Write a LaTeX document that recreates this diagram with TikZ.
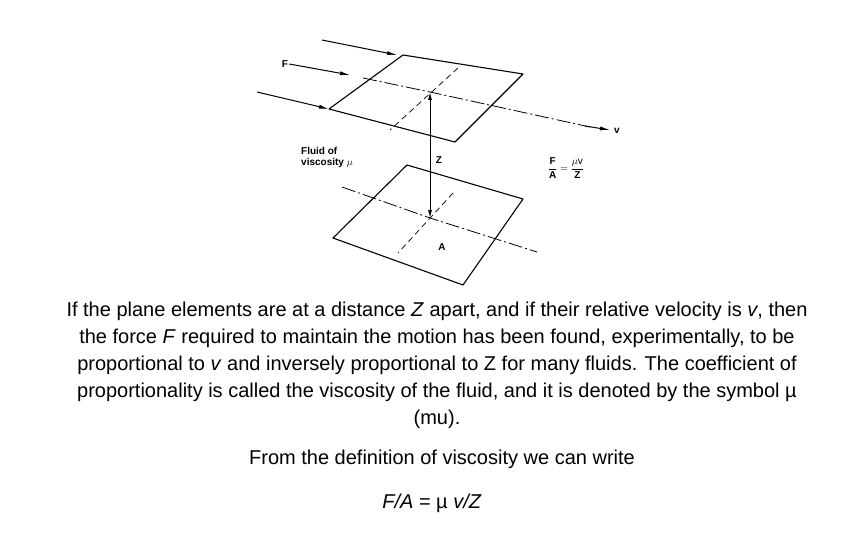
\documentclass[tikz,border=0pt]{standalone}
\usepackage{fontspec}
\setmainfont{Liberation Sans}
\usetikzlibrary{arrows.meta}
\begin{document}
\begin{tikzpicture}[x=1pt,y=-1pt,
  plate/.style={draw,line width=1.1pt,line join=round},
  dashdot/.style={line width=0.8pt,dash pattern=on 14pt off 3pt on 2pt off 3pt},
  dsh/.style={line width=0.7pt,dash pattern=on 6pt off 4pt},
  farrow/.style={line width=1pt,-{Latex[length=10pt,width=4pt]}},
  lbl/.style={font=\fontsize{10}{11}\selectfont\bfseries,inner sep=1pt},
  body/.style={font=\fontsize{20}{27}\selectfont,align=center,inner sep=0pt}]
\useasboundingbox (0,0) rectangle (864,540);
% top plate
\coordinate (t1) at (403,55); \coordinate (t2) at (523,74);
\coordinate (t3) at (455,142); \coordinate (t4) at (329,109);
\draw[plate] (t1)--(t2)--(t3)--(t4)--cycle;
\coordinate (tc) at (430,92);
\coordinate (ds1) at (363,78); \coordinate (vend) at (610,130);
\draw[dashdot] (ds1) -- (tc) -- (590,127);
\draw[farrow] (585,126) -- (vend);
\node[lbl,anchor=west] (v) at (613,131) {v};
\draw[dsh] (458,68) -- (390,130);
% incoming arrows
\coordinate (a1) at (322,40); \coordinate (a1e) at (397,55);
\draw[farrow] (a1) -- (a1e);
\node[lbl] (F) at (285,64) {F};
\coordinate (a2e) at (350,75);
\draw[farrow] (F.east) -- (a2e);
\coordinate (a3) at (257,92);
\draw[farrow] (a3) -- (t4);
% bottom plate
\coordinate (b1) at (407,165); \coordinate (b2) at (523,199);
\coordinate (b3) at (463,285); \coordinate (b4) at (333,238);
\draw[plate] (b1)--(b2)--(b3)--(b4)--cycle;
\coordinate (bc) at (430,218);
\draw[dashdot] (342,187) -- (bc) -- (537,252);
\draw[dsh] (453,193) -- (398,253);
\node[lbl] (A) at (442,247) {A};
% Z arrow
\draw[line width=0.9pt,{Latex[length=8pt,width=4pt]}-{Latex[length=8pt,width=4pt]}] (tc) -- (bc);
\node[lbl] (Z) at (439,160) {Z};
\node[lbl,align=left,anchor=west] (fl) at (300,157) {Fluid of\\viscosity $\mu$};
\node[lbl] (eq) at (566,168) {$\displaystyle\frac{\mathbf{F}}{\mathbf{A}}=\frac{\mu\mathrm{v}}{\mathbf{Z}}$};
% text
\node[body] (t) at (437,365) {If the plane elements are at a distance \textit{Z} apart, and if their relative velocity is \textit{v}, then\\the force \textit{F} required to maintain the motion has been found, experimentally, to be\\proportional to \textit{v} and inversely proportional to Z for many fluids. The coefficient of\\proportionality is called the viscosity of the fluid, and it is denoted by the symbol µ\\(mu).};
\node[body] (d) at (442,459) {From the definition of viscosity we can write};
\node[body] (f) at (432,503) {\textit{F/A} = µ \textit{v/Z}};
\end{tikzpicture}
\end{document}
